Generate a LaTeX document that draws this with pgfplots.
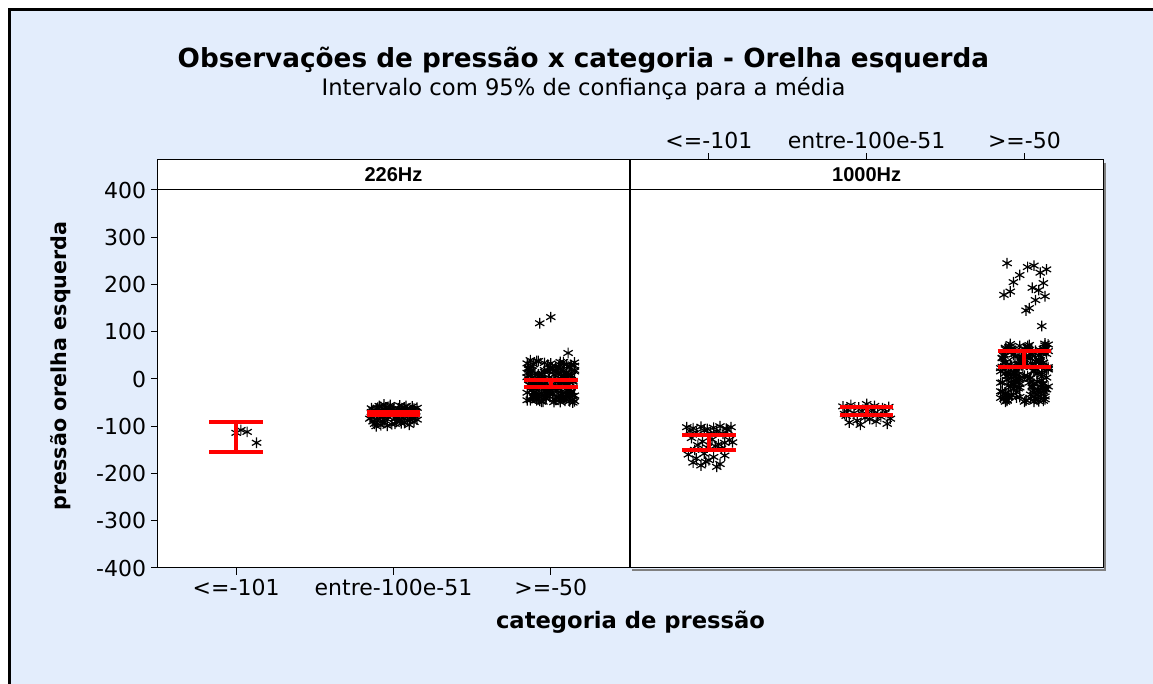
\documentclass[border=0pt]{standalone}
\usepackage{pgfplots}
\pgfplotsset{compat=1.18}
\usepackage{fontspec}
\setmainfont{DejaVu Sans}
\newfontfamily\stripfont{Liberation Sans}
\definecolor{bgblue}{HTML}{E3EDFC}

\pgfplotsset{
  panel/.style={
    scale only axis, width=354pt, height=306pt,
    xmin=0.5, xmax=3.5, ymin=-400, ymax=463.5,
    clip marker paths=true,
    axis background/.style={fill=white},
    axis line style={black, line width=0.75pt},
    tick style={black, line width=0.75pt},
    major tick length=5pt,
    tick align=outside,
    xtick={1,2,3},
    xticklabels={{<=-101},{entre-100e-51},{>=-50}},
    ticklabel style={font=\fontsize{16.5}{19}\selectfont},
  },
  pts/.style={only marks, mark=asterisk, mark size=4pt,
    mark options={black, line width=0.9pt}},
  ci/.style={red, line width=3pt, mark=none, unbounded coords=jump},
}

\begin{document}
\begin{tikzpicture}
\path[use as bounding box] (0,0) rectangle (864.75pt,513pt);
\fill[white] (0,0) rectangle (864.75pt,513pt);
\fill[bgblue] (7.1pt,0) rectangle (864.75pt,505.9pt);
\draw[black, line width=2.25pt] (7.1pt,0) -- (7.1pt,505.9pt) -- (864.75pt,505.9pt);

\node[font=\fontsize{19.7}{23}\selectfont\bfseries] at (437.6pt,468pt)
  {Observações de pressão x categoria - Orelha esquerda};
\node[font=\fontsize{17}{20}\selectfont] at (437.6pt,446.25pt)
  {Intervalo com 95\% de confiança para a média};

% shadow of the right panel
\draw[gray, line width=1.5pt] (828.8pt,391pt) -- (828.8pt,85.6pt) -- (474pt,85.6pt);

% 226Hz
\begin{axis}[panel, at={(118.1pt,87pt)}, anchor=south west,
  xtick pos=lower, ytick pos=left,
  ytick={-400,-300,-200,-100,0,100,200,300,400},
  yticklabels={-400,-300,-200,-100,0,100,200,300,400}]
\addplot[pts] coordinates {
  (1.03,-108) (1.00,-114) (1.07,-112) (1.13,-135)
};
\addplot[pts] coordinates {
  (1.86,-62) (2.05,-70) (1.92,-81) (2.12,-66) (1.98,-58) (2.09,-88) (1.89,-74) (2.01,-95) (2.14,-79) (1.95,-67)
  (2.07,-60) (1.87,-90) (2.03,-76) (1.91,-57) (2.11,-72) (1.96,-85) (2.13,-63) (1.93,-69) (2.06,-82) (1.99,-64)
  (1.88,-78) (2.10,-97) (1.94,-92) (2.04,-56) (2.15,-86) (1.90,-61) (2.02,-83) (1.97,-73) (2.08,-68) (1.85,-84)
  (2.12,-58) (1.96,-99) (2.00,-66) (1.92,-59) (2.09,-75) (1.88,-95) (2.05,-89) (2.14,-71) (1.94,-77) (2.03,-62)
  (1.90,-87) (2.11,-80) (1.98,-55) (2.07,-93) (1.86,-70) (2.01,-83) (2.13,-91) (1.95,-60) (2.06,-65) (1.89,-100)
  (1.87,-66) (2.10,-78) (1.93,-89) (2.04,-73) (1.99,-96) (2.15,-61) (1.91,-71) (2.08,-57) (1.96,-79) (2.12,-84)
  (1.89,-63) (2.02,-90) (1.94,-54) (2.06,-77) (2.14,-68) (1.86,-81) (2.00,-74) (2.09,-65) (1.92,-98) (2.05,-94)
};
\addplot[pts] coordinates {
  (2.85,-45) (3.04,12) (2.91,-30) (3.12,25) (2.97,-8) (3.08,-38) (2.88,3) (3.01,-20) (3.15,35) (2.94,-48)
  (3.10,-15) (2.86,20) (3.03,-2) (2.92,-42) (3.13,8) (2.99,-27) (3.06,30) (2.89,-35) (3.09,-10) (2.96,15)
  (3.14,-50) (2.93,0) (3.02,-22) (2.87,40) (3.11,-5) (3.10,-33) (2.88,18) (3.03,-44) (2.94,-12) (3.15,28)
  (2.97,-25) (3.07,5) (2.90,-40) (3.05,22) (2.98,-18) (3.12,-47) (2.92,10) (3.02,-3) (2.85,33) (3.09,-30)
  (2.95,-14) (3.14,-36) (3.00,24) (2.89,-7) (3.06,-49) (2.87,14) (3.11,-23) (2.96,2) (3.08,-41) (2.91,38)
  (2.93,-9) (3.13,-28) (2.99,16) (3.09,-46) (2.86,-1) (3.05,26) (2.96,-34) (3.11,7) (2.90,-19) (3.02,-43)
  (3.15,19) (2.88,-11) (3.07,-32) (2.98,30) (3.04,-24) (2.85,4) (3.10,-39) (2.94,11) (3.12,-16) (2.91,-45)
  (3.01,23) (3.14,-6) (2.89,-29) (3.06,36) (2.97,-37) (3.02,9) (2.90,-21) (3.14,-4) (2.95,-48) (3.08,17)
  (2.87,-13) (3.11,27) (2.99,-31) (3.06,-44) (2.92,1) (3.13,-26) (2.85,13) (3.04,-38) (2.97,-17) (3.10,31)
  (2.89,-8) (3.15,-35) (3.00,21) (2.93,-46) (3.09,6) (2.88,-24) (3.05,-2) (2.96,34) (3.12,-41) (2.86,-12)
  (2.87,-43) (3.09,5) (2.95,-18) (3.13,29) (2.90,-36) (3.04,17) (2.98,-27) (3.11,-1) (2.92,38) (3.06,-12)
  (3.15,-47) (2.86,22) (3.01,-33) (2.94,9) (3.12,-21) (2.89,31) (3.07,-8) (2.97,-40) (3.10,14) (2.85,-29)
  (3.03,26) (2.91,-15) (3.14,-44) (2.99,3) (2.88,-24) (3.08,36) (2.93,-6) (3.05,-38) (2.96,19) (3.12,-31)
  (2.90,11) (3.02,-49) (2.86,24) (3.10,-11) (2.95,-35) (3.13,7) (2.89,-19) (3.00,33) (3.07,-26) (2.92,-3)
  (3.15,16) (2.97,-42) (2.88,28) (3.04,-14) (3.11,0) (2.94,-30) (3.06,21) (2.87,-45) (3.09,10) (2.99,-23)
  (2.93,118) (3.00,131) (3.11,55)
};
\addplot[ci] coordinates {
  (0.83,-91) (1.17,-91) (1,nan) (1,-91) (1,-154) (1,nan) (0.83,-154) (1.17,-154) (1,nan)
  (1.83,-69) (2.17,-69) (2,nan) (2,-69) (2,-76) (2,nan) (1.83,-76) (2.17,-76) (2,nan)
  (2.83,-2) (3.17,-2) (3,nan) (3,-2) (3,-17) (3,nan) (2.83,-17) (3.17,-17)
};
\draw[black, line width=0.75pt] (0.5,400) -- (3.5,400);
\node[font=\stripfont\bfseries\fontsize{15}{17}\selectfont] at (2,431.75) {226Hz};
\end{axis}

% 1000Hz
\begin{axis}[panel, at={(472.5pt,87pt)}, anchor=south west, width=355pt,
  xtick pos=upper, xticklabel pos=upper, ytick=\empty]
\addplot[pts] coordinates {
  (0.86,-102) (0.90,-104) (0.95,-101) (0.99,-106) (1.03,-103) (1.07,-100) (1.11,-105) (1.14,-102)
  (0.88,-110) (0.97,-109) (1.05,-111) (1.12,-108) (0.92,-113) (1.01,-115) (1.09,-116)
  (0.89,-125) (0.96,-132) (1.02,-128) (1.10,-135) (0.93,-140) (1.06,-138) (1.13,-129) (0.99,-145)
  (1.08,-147) (0.91,-150) (1.15,-134) (1.04,-142)
  (0.87,-160) (0.92,-168) (0.98,-175) (1.03,-165) (1.07,-180) (0.95,-183) (1.00,-172) (1.10,-162)
  (0.90,-177) (1.05,-186) (0.97,-158)
};
\addplot[pts] coordinates {
  (1.85,-58) (1.90,-55) (1.95,-60) (2.00,-53) (2.05,-57) (2.10,-62) (2.14,-59) (1.88,-65) (1.97,-68)
  (2.03,-64) (2.12,-70) (1.92,-72) (2.07,-75) (1.87,-78) (1.99,-82) (2.09,-80) (1.94,-88) (2.02,-85)
  (1.89,-92) (2.13,-95) (1.96,-97) (2.06,-90) (2.15,-84) (1.86,-74) (2.04,-66)
};
\addplot[pts] coordinates {
  (2.85,-40) (3.04,55) (2.91,10) (3.12,-25) (2.97,70) (3.08,-5) (2.88,35) (3.01,-45) (3.15,20) (2.94,60)
  (3.10,-15) (2.86,45) (3.03,0) (2.92,-35) (3.13,75) (2.99,25) (3.06,-48) (2.89,15) (3.09,50) (2.96,-20)
  (3.14,65) (2.93,-10) (3.02,30) (2.87,-42) (3.11,5) (3.10,40) (2.88,-30) (3.03,72) (2.94,-2) (3.15,22)
  (2.97,-38) (3.07,58) (2.90,12) (3.05,-18) (2.98,48) (3.12,-46) (2.92,28) (3.02,68) (2.85,-8) (3.09,38)
  (2.95,-28) (3.14,3) (3.00,62) (2.89,-44) (3.06,18) (2.87,52) (3.11,-12) (2.96,33) (3.08,-33) (2.91,74)
  (2.93,8) (3.13,-22) (2.99,43) (3.09,-47) (2.86,26) (3.05,57) (2.96,-6) (3.11,14) (2.90,-36) (3.02,66)
  (3.15,-16) (2.88,36) (3.07,-41) (2.98,46) (3.04,2) (2.85,-26) (3.10,61) (2.94,19) (3.12,-9) (2.91,31)
  (3.01,-45) (3.14,53) (2.89,6) (3.06,-30) (2.97,41) (3.02,70) (2.90,-14) (3.14,24) (2.95,-39) (3.08,11)
  (2.87,49) (3.11,-3) (2.99,29) (3.06,-24) (2.92,64) (3.13,-43) (2.85,16) (3.04,44) (2.97,-11) (3.10,37)
  (2.89,-34) (3.15,59) (3.00,7) (2.93,-20) (3.09,27) (2.88,-48) (3.05,51) (2.96,-1) (3.12,34) (2.86,-27)
  (3.07,21) (2.88,63) (3.13,-37) (2.96,9) (3.01,45) (2.91,-17) (3.11,56) (2.86,-7) (3.05,32) (2.94,13)
  (2.87,-32) (3.09,41) (2.95,8) (3.13,-19) (2.90,67) (3.04,-41) (2.98,29) (3.11,54) (2.92,-4) (3.06,16)
  (3.15,73) (2.86,-27) (3.01,47) (2.94,-12) (3.12,35) (2.89,-46) (3.07,60) (2.97,1) (3.10,-36) (2.85,23)
  (3.03,-8) (2.91,69) (3.14,-22) (2.99,39) (2.88,12) (3.08,-44) (2.93,52) (3.05,-15) (2.96,30) (3.12,64)
  (2.90,-39) (3.02,6) (2.86,44) (3.10,-29) (2.95,18) (3.13,71) (2.89,-2) (3.00,-48) (3.07,37) (2.92,57)
  (3.15,25) (2.97,-18) (2.88,66) (3.04,-33) (3.11,10) (2.94,48) (3.06,-10) (2.87,34) (3.09,-24) (2.99,4)
  (2.89,245) (3.02,237) (2.97,220) (2.93,205) (3.12,203) (3.05,193) (2.87,178) (3.07,167) (3.03,150)
  (3.01,145) (3.10,225) (3.14,232) (3.09,188) (2.91,185) (3.13,175) (3.11,112) (3.06,240)
};
\addplot[ci] coordinates {
  (0.83,-119) (1.17,-119) (1,nan) (1,-119) (1,-150) (1,nan) (0.83,-150) (1.17,-150) (1,nan)
  (1.83,-59) (2.17,-59) (2,nan) (2,-59) (2,-76) (2,nan) (1.83,-76) (2.17,-76) (2,nan)
  (2.83,59) (3.17,59) (3,nan) (3,59) (3,25) (3,nan) (2.83,25) (3.17,25)
};
\draw[black, line width=0.75pt] (0.5,400) -- (3.5,400);
\node[font=\stripfont\bfseries\fontsize{15}{17}\selectfont] at (2,431.75) {1000Hz};
\end{axis}

\node[rotate=90, font=\fontsize{15.5}{18}\selectfont\bfseries] at (45.75pt,238.5pt)
  {pressão orelha esquerda};
\node[font=\fontsize{17}{20}\selectfont\bfseries] at (472.9pt,46.5pt)
  {categoria de pressão};
\end{tikzpicture}
\end{document}
